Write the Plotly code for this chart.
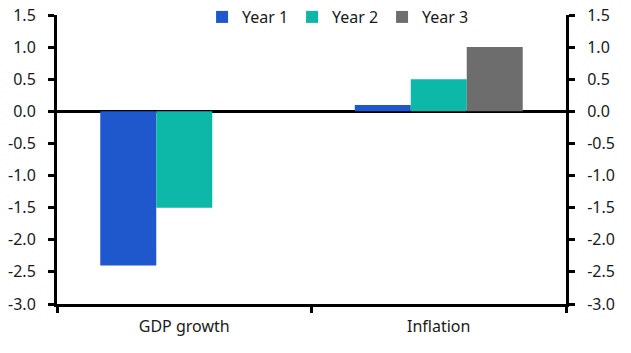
import plotly.graph_objects as go

categories = ["GDP growth", "Inflation"]
series_names = ["Year 1", "Year 2", "Year 3"]
year1 = [-2.4, 0.1]
year2 = [-1.5, 0.5]
year3 = [None, 1.0]
colors = ["#1F57CC", "#0DB8A9", "#6D6D6D"]

tick_vals = [1.5, 1.0, 0.5, 0.0, -0.5, -1.0, -1.5, -2.0, -2.5, -3.0]
tick_text = ["1.5", "1.0", "0.5", "0.0", "-0.5", "-1.0", "-1.5", "-2.0", "-2.5", "-3.0"]

FONT = "Noto Sans"

fig = go.Figure()
for name, vals, c in zip(series_names, [year1, year2, year3], colors):
    fig.add_trace(go.Bar(x=categories, y=vals, name=name, marker=dict(color=c, line=dict(width=0))))

# invisible trace to anchor the right axis
fig.add_trace(go.Scatter(x=categories, y=[None, None], yaxis="y2", showlegend=False, hoverinfo="skip"))

yaxis_common = dict(
    range=[-3.0, 1.5],
    tickvals=tick_vals,
    ticktext=tick_text,
    showgrid=False,
    showline=True,
    linewidth=3,
    linecolor="black",
    ticks="outside",
    ticklen=6,
    tickwidth=3,
    tickcolor="black",
    ticklabelstandoff=9,
    tickfont=dict(family=FONT, size=16, color="#1a1a1a"),
)

fig.update_layout(
    width=631,
    height=353,
    margin=dict(l=57, r=65, t=15, b=49, autoexpand=False),
    plot_bgcolor="white",
    paper_bgcolor="white",
    barmode="group",
    bargap=0.34,
    bargroupgap=0,
    showlegend=True,
    legend=dict(
        orientation="h",
        x=0.285,
        xanchor="left",
        y=0.993,
        yanchor="middle",
        bgcolor="rgba(0,0,0,0)",
        font=dict(family=FONT, size=16, color="#1a1a1a"),
        itemwidth=30,
        entrywidth=45,
        entrywidthmode="pixels",
        traceorder="normal",
    ),
    xaxis=dict(
        showgrid=False,
        showline=True,
        linewidth=3,
        linecolor="black",
        ticks="outside",
        tickson="boundaries",
        ticklen=6,
        tickwidth=3,
        tickcolor="black",
        tickfont=dict(family=FONT, size=16, color="#1a1a1a"),
        ticklabelstandoff=6,
    ),
    yaxis=dict(**yaxis_common, zeroline=True, zerolinewidth=3, zerolinecolor="black"),
    yaxis2=dict(**yaxis_common, overlaying="y", side="right", zeroline=False),
)

fig.write_html("out.html")
